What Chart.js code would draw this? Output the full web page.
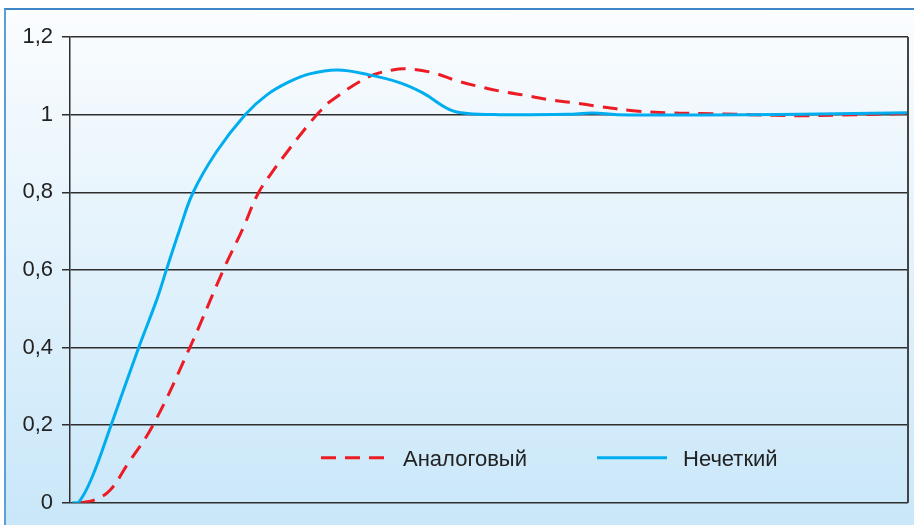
<!DOCTYPE html>
<html>
<head>
<meta charset="utf-8">
<script src="https://cdn.jsdelivr.net/npm/chart.js@4.4.1/dist/chart.umd.min.js"></script>
<style>
    html, body { margin: 0; padding: 0; background: #fff; }
    #wrap { position: relative; width: 914px; height: 525px; overflow: hidden; }
    #bg {
        position: absolute; left: 4px; top: 8px; right: 0; bottom: 0;
        border-top: 2px solid #3f86c6; border-left: 2px solid #5a9fd6;
        background: linear-gradient(to bottom, #fbfdff 0%, #eef7fd 25%, #c9e7f9 100%);
    }
    #chart { position: absolute; left: 0; top: 0; }
</style>
</head>
<body>
<div id="wrap">
    <div id="bg"></div>
    <canvas id="chart" width="914" height="525"></canvas>
</div>
<script>
// значения (x: условное время 0..100)
const seriesNames = ["Аналоговый", "Нечеткий"];
const tickLabels = ["0", "0,2", "0,4", "0,6", "0,8", "1", "1,2"];

const analogX = [1.2, 3.0, 4.8, 6.8, 9.9, 14.3, 18.3, 20.6, 22.4, 24.0, 25.7, 28.3, 29.8, 31.0, 35.6, 38.5, 40.2,
    43.3, 46.2, 48.9, 51.7, 54.5, 57.3, 60.0, 63.2, 67.2, 71.2, 75.2, 81.1, 87.1, 91.9, 100];
const analogY = [0, 0.008, 0.033, 0.097, 0.2, 0.4, 0.6, 0.705, 0.795, 0.848, 0.898, 0.97, 1.008, 1.033, 1.097, 1.115, 1.118,
    1.108, 1.087, 1.072, 1.059, 1.049, 1.038, 1.031, 1.021, 1.01, 1.005, 1.003, 1.0, 0.997, 0.999, 1.003];

const fuzzyX = [0.3, 1.0, 2.6, 4.9, 8.2, 10.4, 11.5, 13.1, 14.7, 17.5, 20.9, 23.5, 26.2, 28.6, 31.9, 35.6,
    39.4, 42.1, 45.3, 47.4, 51.3, 59.3, 62.4, 65.3, 75.2, 87.1, 100];
const fuzzyY = [0, 0, 0.064, 0.2, 0.4, 0.526, 0.6, 0.705, 0.8, 0.905, 1.0, 1.051, 1.085, 1.105, 1.115, 1.103,
    1.082, 1.056, 1.013, 1.003, 1.0, 1.001, 1.004, 1.0, 0.999, 1.001, 1.005];

const toPoints = (xs, ys) => xs.map((x, i) => ({ x: x, y: ys[i] }));

// легенда внутри области графика
const innerLegend = {
    id: "innerLegend",
    afterDraw(chart) {
        const ctx = chart.ctx;
        const y = chart.chartArea.bottom - 45;
        const items = [
            { ds: chart.data.datasets[0], x0: 321, len: 64, tx: 403 },
            { ds: chart.data.datasets[1], x0: 597, len: 70, tx: 683 }
        ];
        ctx.save();
        items.forEach(it => {
            ctx.beginPath();
            ctx.lineWidth = 3;
            ctx.strokeStyle = it.ds.borderColor;
            ctx.setLineDash(it.ds.borderDash || []);
            ctx.moveTo(it.x0, y);
            ctx.lineTo(it.x0 + it.len, y);
            ctx.stroke();
            ctx.setLineDash([]);
            ctx.fillStyle = "#222";
            ctx.font = "22px 'Liberation Sans', Arial, sans-serif";
            ctx.textBaseline = "middle";
            ctx.fillText(it.ds.label, it.tx, y + 2);
        });
        ctx.restore();
    }
};

// правая рамка области графика
const rightFrame = {
    id: "rightFrame",
    afterDraw(chart) {
        const a = chart.chartArea, ctx = chart.ctx;
        ctx.save();
        ctx.strokeStyle = "#444";
        ctx.lineWidth = 2;
        ctx.beginPath();
        ctx.moveTo(a.right, a.top);
        ctx.lineTo(a.right, a.bottom);
        ctx.stroke();
        ctx.restore();
    }
};

new Chart(document.getElementById("chart").getContext("2d"), {
    type: "line",
    data: {
        datasets: [
            {
                label: seriesNames[0],
                data: toPoints(analogX, analogY),
                borderColor: "#ed1c24",
                borderWidth: 3,
                borderDash: [15, 9],
                pointRadius: 0,
                tension: 0.4,
                order: 1
            },
            {
                label: seriesNames[1],
                data: toPoints(fuzzyX, fuzzyY),
                borderColor: "#00aeef",
                borderWidth: 3,
                pointRadius: 0,
                tension: 0.4,
                order: 0
            }
        ]
    },
    options: {
        responsive: false,
        animation: false,
        layout: { padding: { left: 0, top: 37, right: 6, bottom: 20 } },
        scales: {
            x: { type: "linear", min: 0, max: 100, display: false },
            y: {
                min: 0,
                max: 1.2,
                afterFit: (scale) => { scale.width = 70; },
                ticks: {
                    stepSize: 0.2,
                    padding: 9,
                    color: "#222",
                    font: { family: "'Liberation Sans', Arial, sans-serif", size: 22 },
                    callback: (v, i) => tickLabels[i]
                },
                grid: { color: "#2e2e2e", lineWidth: 1.5, tickLength: 8, drawTicks: true },
                border: { display: true, color: "#2e2e2e", width: 1.5 }
            }
        },
        plugins: {
            legend: { display: false },
            tooltip: { enabled: false }
        }
    },
    plugins: [innerLegend, rightFrame]
});
</script>
</body>
</html>
